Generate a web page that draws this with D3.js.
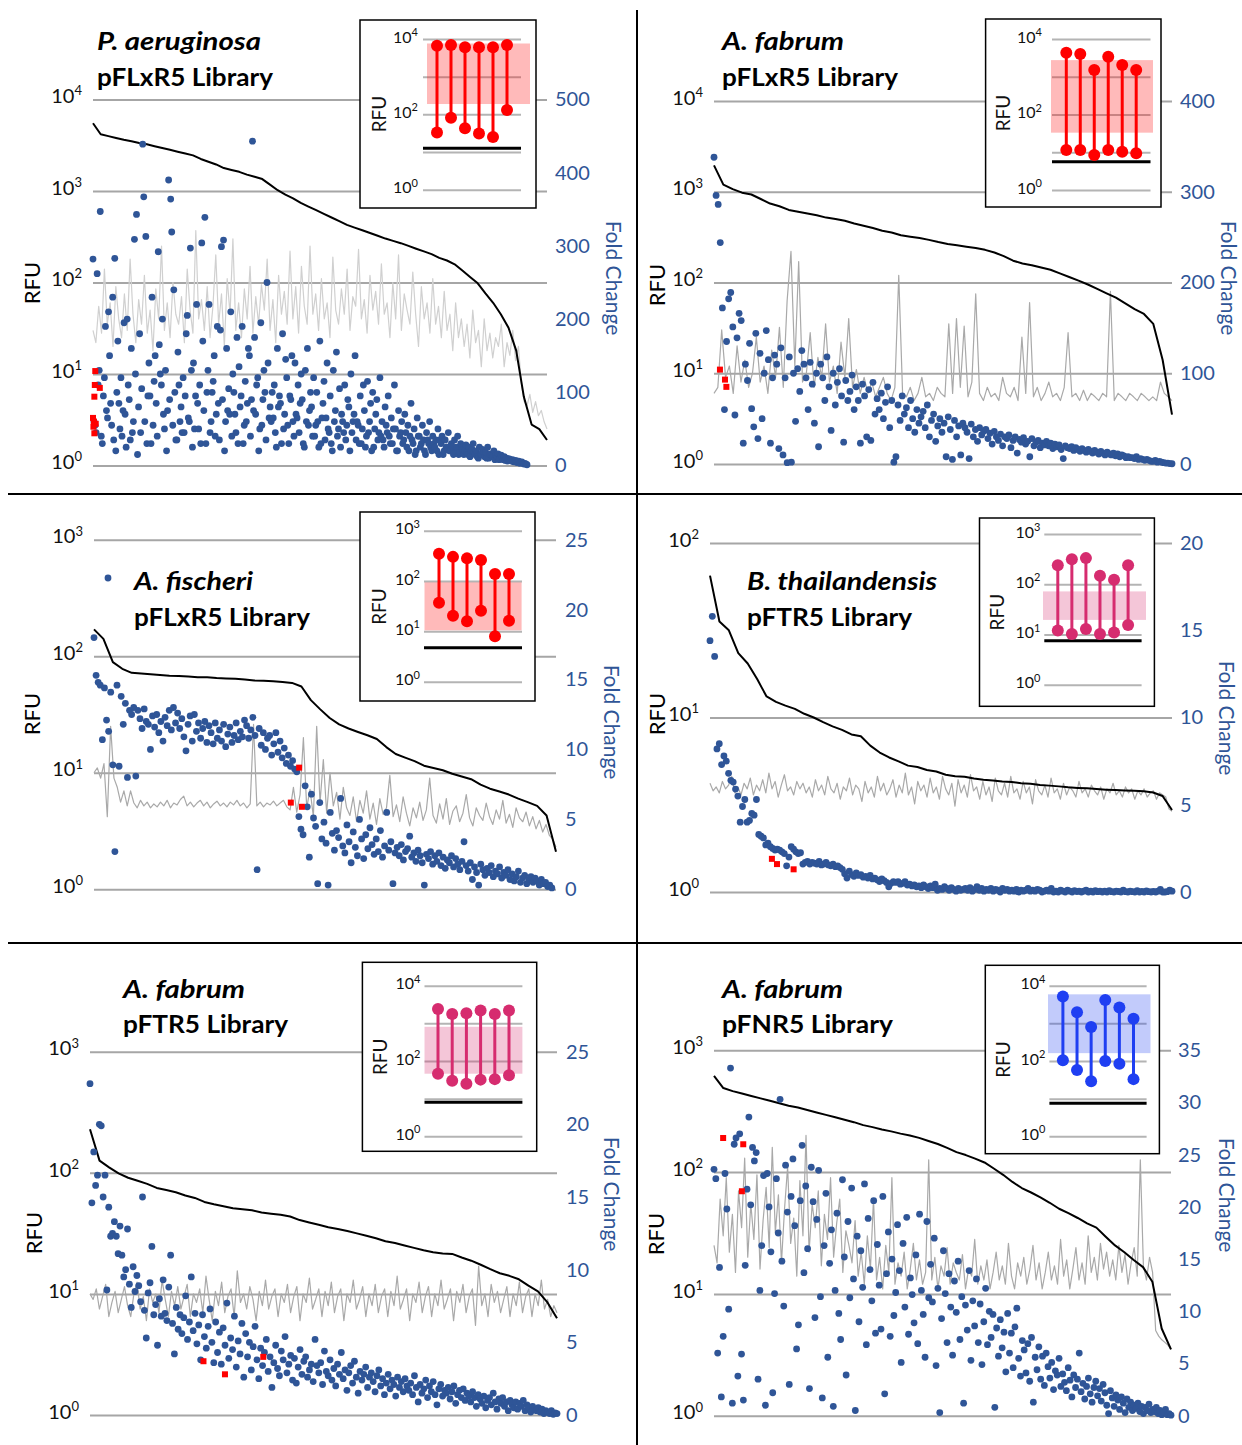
<!DOCTYPE html>
<html lang="en">
<head>
<meta charset="UTF-8">
<title>RFU and fold change for six promoter libraries</title>
<script src="https://d3js.org/d3.v7.min.js"></script>
<style>
  body { margin: 0; background: #fff; }
  svg text { font-family: Lato, "Open Sans", sans-serif; }
</style>
</head>
<body>
<svg width="1242" height="1445"></svg>
<script>
// ---- P. aeruginosa pFLxR5 ----
const p1FcTicks = [0, 100, 200, 300, 400, 500];
const p1Black = [5500,4170,3980,3800,3630,3500,3350,3240,3090,2950,2820,2690,2570,2450,2240,2090,1950,1780,1700,1620,
  1510,1430,1350,1175,1020,912,832,741,676,617,562,513,468,427,398,372,347,324,302,285,
  269,251,234,219,204,186,174,158,135,115,98,76,60,45,32,18,5.6,2.8,2.5,1.9];
const p1Grey = [30,22,55,28,140,35,60,20,90,40, 25,75,30,180,45,22,65,35,120,28,
  50,18,85,40,250,30,60,25,100,45, 35,70,22,140,50,28,370,40,65,30,
  90,25,55,200,35,75,20,110,45,300, 30,60,25,85,40,150,28,70,35,95,
  50,180,30,65,22,120,45,80,35,220, 40,90,28,150,55,35,250,45,75,30,
  110,40,60,25,190,50,35,85,45,140, 30,70,55,230,40,65,28,120,50,80,
  35,160,45,60,25,100,40,200,30,75, 50,35,130,45,20,90,40,60,28,110,
  35,55,25,80,30,45,18,60,25,40, 20,35,15,50,22,30,12,40,18,28,
  15,25,20,35,12,22,16,30,14,20, 8,5,4.5,6,3.8,5,3.5,4,3,2.5];
const p1Dots = [282,60,55,45,262,110,130,347,40,30,95,120,190,75,65,
  210,150,85,55,230,35,283,20,100,170,85,50,120,40,75,
  195,70,25,200,110,90,35,160,45,60,309,125,343,15,80,
  180,45,105,439,367,60,313,30,95,140,95,30,230,55,115,
  150,85,40,292,165,125,110,200,70,50,130,20,75,390,90,
  364,319,55,240,100,35,35,155,110,60,80,45,120,45,95,
  180,205,65,60,297,130,25,140,50,95,220,85,50,110,30,
  304,170,75,339,30,100,130,220,45,60,100,115,150,40,70,
  190,85,35,185,299,90,308,20,60,160,75,105,70,210,40,
  125,100,70,45,175,30,135,80,95,190,30,55,115,60,85,
  160,150,40,90,443,75,175,70,110,120,20,50,195,55,90,
  130,100,35,250,140,65,80,60,100,65,110,45,25,160,80,
  95,85,30,180,50,70,145,120,55,30,95,90,150,60,40,
  140,70,65,110,45,85,125,90,30,25,130,60,160,55,75,
  100,80,40,120,40,55,100,60,25,170,30,65,85,115,35,
  65,140,50,45,95,30,20,130,60,75,155,40,50,105,25,
  70,60,45,110,35,55,90,80,20,125,45,60,70,150,35,
  60,55,30,95,30,50,110,75,25,40,115,45,60,85,20,
  100,25,50,70,90,35,45,120,40,60,35,25,80,55,45,
  95,40,30,65,30,50,110,50,20,20,75,40,45,60,30,
  35,70,45,25,55,20,40,85,35,30,50,15,20,65,40,
  40,25,30,55,35,20,15,45,35,30,60,25,20,40,30,
  25,35,20,50,15,35,30,40,15,20,35,25,25,45,20,
  20,30,25,15,35,20,25,40,15,18,30,25,22,15,20,
  28,18,15,25,12,20,22,30,18,15,20,12,10,25,15,
  15,22,18,12,18,10,25,10,15,16,14,12,20,8,14,
  12,16,8,10,14,11,8,12,7,10,6,9,9,7,6,
  8,5,6,7,4,5,6,3,4,5,3,2,3,2,1];
const p1Red = [[0.005,129],[0.004,110],[0.015,106],[0.003,94],[0.0,65],[0.002,60],[0.001,53],[0.003,44],[0.006,57]];
const p1InsetTop = [6600, 6900, 6000, 6000, 6000, 6900];
const p1InsetBottom = [33, 81, 43, 31, 25, 130];
const p1InsetBand = [188, 7600];
const p1InsetFloor = 12.5;

// ---- A. fabrum pFLxR5 ----
const p2FcTicks = [0, 100, 200, 300, 400];
const p2Black = [1950,1200,1070,977,933,832,741,692,631,603,575,550,519,501,479,447,422,398,372,355,
  331,320,309,295,279,266,257,248,240,229,214,195,174,162,155,146,138,126,115,105,
  95,85,76,68,59,51,45,35,14,3.5];
const p2Grey = [6,7,30,9,12,6,20,8,14,7, 10,25,8,12,6,18,9,32,7,63,
  220,12,170,8,10,28,7,15,9,35, 8,12,6,22,9,40,7,11,6,9,
  6,8,5.5,7,9,6,5,7,120,6, 5.5,7,5,6,9,5.5,6,5,7,6,
  5.5,35,6,40,7,33,5.5,8,75,6, 5,7,5.5,6,5,9,6,5.5,7,5,
  25,6,60,5.5,7,5,6,8,5.5,6, 5,7,28,5.5,6,5,6.5,5,6,5.5,
  5,6,5.5,80,5,6,5.5,5,6,5.5, 5,6,5.5,5,5.5,5,8,6,5.5,5];
const p2Dots = [338,296,286,244,172,60,135,182,189,151, 54,139,166,158,23,110,92,133,61,41,
  144,28,122,50,100,147,115,23,95,120, 110,17,128,10,95,1.5,118,2,100,47,
  105,80,125,110,95,60,112,88,45,100, 19,110,95,70,118,85,37,100,65,90,
  105,75,24,92,70,80,98,60,85,70, 23,88,75,30,82,26,90,55,72,60,
  78,50,68,85,40,70,2,8,65,48, 75,55,62,40,70,50,35,60,45,52,
  58,40,65,30,48,55,25,42,50,35, 45,8,52,38,5,48,30,42,10,45,
  40,35,6,44,30,38,25,40,32,36, 38,28,34,22,36,30,26,33,20,30,
  28,32,18,26,30,12,27,24,29,22, 25,8,28,20,24,26,18,23,21,25,
  20,23,17,22,19,21,16,6,20,18, 17,19,15,18,16,14,17,15,13,16,
  14,12,15,13,11,14,12,10,13,11, 10,12,9,11,8,10,9,7,8,7,
  7,6,8,5,6,5,4,5,4,3, 3,4,2,3,2,1.5,1,1,0.5,0.3];
const p2Red = [[0.013,104],[0.024,93],[0.027,85]];
const p2InsetTop = [4330, 4000, 1510, 3400, 2040, 1510];
const p2InsetBottom = [11.5, 11.5, 8.5, 11.5, 10.3, 9.4];
const p2InsetBand = [33, 2760];
const p2InsetFloor = 5.6;

// ---- A. fischeri pFLxR5 ----
const p3FcTicks = [0, 5, 10, 15, 20, 25];
const p3Black = [170,141,89,78,72,71,70,69,68,67.6,67,66,66,65,64.5,64,63,62,61.7,61,
  60,59,55,42,35,29.5,26,24,22.4,21,19.5,16.6,14.5,13.5,12.6,11.5,11,10.5,9.8,9.3,
  8.8,7.9,7.3,6.9,6.5,6.0,5.6,5.2,4.3,2.1];
const p3Grey = [10,11,9,12,4.2,25,9,7.5,5.6,7, 5.2,7,5.5,5,5.8,5.2,5.6,5,5.4,5.1,
  5.6,5.2,5.8,5,5.5,5.3,5.9,6.3,5.2,5.6, 5.1,5.5,5.8,5.2,5.6,5,5.4,5.7,5.2,5.5,
  5.1,5.6,5.3,5.8,5.2,5.5,5,5.4,26,5.2, 5.6,5.1,5.5,5.3,5.7,5.2,5.5,5.8,5.1,4.8,
  7.5,4.6,6.5,20,5,7.2,4.2,25,5.5,13, 4.5,10,5.2,6.8,4,7.5,5,4.3,6.2,3.8,
  5.8,4.5,7,4,5.5,3.6,6,4.4,5,9.5, 4.2,5.3,3.8,6.2,4.5,3.5,5,4.1,5.6,3.9,
  4.8,9,4.3,3.7,5.4,4,6,3.6,4.7,5.2, 3.8,4.5,6.5,4.1,3.5,5,4.3,3.9,5.5,4.2,
  3.6,4.8,4,5.8,3.7,4.4,3.4,5,4.1,3.8, 4.6,3.5,4.2,3.3,3.9,3.1,3.6,2.9,2.7,2.3];
const p3Dots = [18.0,15.3,14.8,14.6,10.7,14.4,12.1,11.3,14.1,8.9, 2.7,14.6,8.8,13.8,11.8,13.3,8.0,12.8,12.5,13.0,
  8.1,12.8,12.2,11.5,12.9,12.0,11.8,10.0,12.4,11.6, 12.5,11.2,12.0,10.6,12.3,11.7,12.8,11.4,13.0,11.9,
  12.6,11.5,12.2,10.9,9.9,11.8,12.4,10.6,12.5,11.3, 11.9,10.8,11.5,12.0,10.5,11.7,11.2,10.4,11.9,10.8,
  11.4,10.6,11.8,10.2,11.1,11.6,10.5,11.0,11.9,10.7, 11.3,10.9,12.1,11.7,10.8,11.4,12.3,11.0,1.4,11.5,
  10.3,11.2,10.0,10.8,11.0,9.6,10.4,11.2,9.8,10.6, 9.4,10.1,9.0,9.6,8.8,9.2,8.6,8.4,5.2,4.3,
  3.9,7.4,5.9,2.3,6.8,5.1,4.5,0.4,6.2,3.6, 4.8,3.3,0.3,5.5,4.0,2.8,4.2,3.7,6.5,3.1,
  2.6,4.6,3.4,1.9,4.1,3.0,2.4,5.0,3.6,2.2, 3.9,2.9,4.4,3.2,2.5,3.6,2.7,4.2,2.3,3.1,
  5.5,2.8,3.4,0.4,2.6,3.0,2.4,3.2,2.1,2.7, 2.9,3.8,2.3,2.6,2.0,2.8,2.4,1.9,0.3,2.5,
  2.2,2.7,1.8,2.4,2.0,2.6,1.7,2.3,1.5,2.1, 1.9,2.4,1.6,2.2,1.8,1.4,2.0,3.4,1.7,1.3,
  1.9,0.7,1.6,1.2,0.3,1.8,1.4,1.0,1.5,1.2, 1.7,0.9,1.3,1.1,1.6,0.8,1.2,1.0,1.4,0.7,
  1.1,0.6,0.9,1.3,0.5,0.8,1.0,0.4,0.7,0.9, 0.5,0.8,0.6,0.3,0.7,0.4,0.5,0.2,0.3,0.1];
const p3Red = [[0.444,8.7],[0.426,6.2],[0.450,5.9]];
const p3InsetTop = [347, 302, 282, 263, 138, 138];
const p3InsetBottom = [37, 20.5, 15.9, 25.7, 8, 16.3];
const p3InsetBand = [10.5, 94];
const p3InsetFloor = 4.7;

// ---- B. thailandensis pFTR5 ----
const p4FcTicks = [0, 5, 10, 15, 20];
const p4Black = [65,35.5,31.6,23.4,20.4,16.6,13.2,12.3,11.7,11.2,10.5,10,9.4,8.9,8.5,8.0,7.8,6.9,6.3,5.9,
  5.6,5.3,5.2,5.0,4.9,4.7,4.6,4.57,4.47,4.4,4.36,4.3,4.27,4.2,4.17,4.1,4.07,4.03,3.98,3.95,
  3.93,3.89,3.86,3.84,3.82,3.80,3.78,3.72,3.55,2.95];
const p4Grey = [4.2,3.8,4.0,3.7,4.3,3.9,4.1,4.6,3.7,4.0, 3.6,4.2,3.9,4.5,3.6,4.1,3.8,4.4,3.7,4.8,
  3.9,4.3,3.5,4.1,4.7,3.8,4.0,3.6,4.3,3.9, 4.2,3.7,4.0,3.5,4.4,3.8,4.1,3.6,4.6,3.9,
  3.7,4.2,3.4,4.0,3.8,4.5,3.6,4.1,3.9,3.3, 4.3,3.7,4.0,3.5,4.6,3.8,4.2,3.6,3.9,4.4,
  3.5,4.1,3.7,4.8,3.6,4.0,3.2,4.3,3.8,4.1, 3.5,4.5,3.7,4.0,3.4,4.6,3.9,3.6,4.2,3.1,
  4.4,3.7,4.1,3.5,4.7,3.8,4.0,3.4,4.3,3.6, 4.0,3.3,4.5,3.8,3.6,4.2,3.5,4.6,3.7,3.9,
  3.4,4.3,3.7,4.0,3.2,4.4,3.8,3.6,4.1,3.5, 4.5,3.7,3.9,3.4,4.2,3.6,4.0,3.8,3.5,4.3,
  3.7,3.9,3.5,4.1,3.8,3.6,4.0,3.4,3.9,3.7, 4.2,3.6,3.8,3.5,4.0,3.7,3.9,3.4,3.8,3.6,
  3.9,3.5,3.7,3.8,3.4,3.7,3.6,3.5,3.0,2.9];
const p4Dots = [14.4,15.8,13.5,8.2,8.5,7.3,7.8,7.5,6.8,6.4, 6.3,5.9,5.5,4.0,4.9,5.3,4.0,4.1,4.5,4.4,
  5.3,3.3,3.2,3.1,2.7,2.8,2.6,2.5,2.4,2.45, 2.4,2.3,2.2,1.5,2.0,2.6,2.45,2.3,2.2,2.25,
  1.6,1.7,1.75,1.6,1.7,1.65,1.6,1.75,1.55,1.6, 1.7,1.55,1.5,1.6,1.45,1.5,1.4,1.3,1.05,0.8,
  1.2,1.0,0.9,1.1,0.95,1.0,0.85,0.9,0.8,0.95, 0.75,0.8,0.7,0.6,0.75,0.65,0.55,0.3,0.5,0.6,
  0.55,0.6,0.45,0.5,0.6,0.4,0.45,0.35,0.4,0.3, 0.35,0.25,0.4,0.3,0.2,0.35,0.25,0.45,0.1,0.2,
  0.15,0.3,0.2,0.1,0.25,0.15,0.05,0.2,0.1,0.15, 0.2,0.1,0.25,0.05,0.15,0.3,0.1,0.2,0.05,0.15,
  0.1,0.2,0.05,0.15,0.1,0.0,0.2,0.1,0.15,0.05, 0.1,0.05,0.15,0.0,0.1,0.05,0.1,0.2,0.05,0.1,
  0.05,0.15,0.1,0.0,0.05,0.1,0.05,0.2,0.0,0.05, 0.0,0.1,0.05,0.0,0.1,0.05,0.0,0.08,0.03,0.05,
  0.0,0.05,0.1,0.0,0.05,0.0,0.08,0.02,0.05,0.0, 0.05,0.0,0.08,0.02,0.0,0.05,0.03,0.0,0.1,0.02,
  0.0,0.05,0.02,0.0,0.08,0.0,0.04,0.0,0.06,0.02, 0.0,0.03,0.0,0.05,0.15,0.0,0.0,0.02,0.1,0.05];
const p4Red = [[0.134,1.9],[0.145,1.6],[0.181,1.3]];
const p4InsetTop = [240, 316, 331, 148, 123, 240];
const p4InsetBottom = [12, 10.2, 12.9, 10.2, 11, 15.5];
const p4InsetBand = [19.5, 72];
const p4InsetFloor = 7.5;

// ---- A. fabrum pFTR5 ----
const p5FcTicks = [0, 5, 10, 15, 20, 25];
const p5Black = [229,126,111,99,91,86,81,75,72,69,65,62,57.5,55,53,51,50,49,47,46,
  45,43.6,40.7,38.9,37.2,35.5,34.3,33.1,31.6,30.2,28.8,27.2,26.3,25.1,24,22.9,22.1,21.6,21.4,20,
  18.8,17.4,16,14.8,14.1,13.2,11.7,10.5,8.5,6.3];
const p5Grey = [10,9,11,7.5,9.5,12,6.5,8.5,10.5,7, 9,11.5,8,6.5,10,12.5,7.5,9.5,6,11,
  8.5,10,7,13,9,6.5,10.5,8,11.5,7.5, 9.5,12,6.5,10,8.5,11,7,14,9,6,
  10.5,8,12.5,7,9.5,11,6.5,15.5,8.5,10, 7.5,11.5,9,6,10.5,8,13,7.5,9.5,11,
  6.5,10,8.5,12,7,9.5,11.5,6,10,8.5, 13.5,7.5,9,11,6.5,10.5,8,12.5,7,9.5,
  11,6,10,8.5,13,7.5,9,11.5,6.5,10, 8,12,7,9.5,11,6.5,10.5,8,14,7.5,
  9,11,6,10,8.5,12.5,7,9.5,11.5,6.5, 10,8,13,7.5,9,11,6,10.5,8.5,12,
  7,9.5,11,5.5,17,8,10,6.5,12,8.5, 10.5,7,9,11.5,6.5,10,8,12.5,7,9.5,
  11,6.5,10,8,13,7.5,9,6.5,8,7];
const p5Dots = [22.8,14.6,18.1,15.8,16.5,20.0,19.9,15.0,16.5,8.6, 14.3,12.3,12.5,13.3,12.3,11.1,13.0,11.0,9.5,10.0,
  12.8,9.0,7.4,10.2,8.5,9.6,8.9,7.8,15.0,7.2, 5.3,8.4,9.1,11.6,6.9,7.6,4.8,8.0,6.8,9.3,
  7.0,6.5,8.8,11.0,6.3,4.2,7.4,5.9,6.9,5.6, 6.7,8.2,5.2,6.4,9.5,5.8,7.0,4.9,6.2,3.8,
  6.9,5.4,4.6,6.1,7.3,5.0,3.6,6.4,4.3,5.7, 3.5,6.0,4.8,7.7,3.9,5.3,4.5,6.8,3.3,5.1,
  4.2,6.3,2.6,5.6,4.0,5.0,3.1,4.7,6.1,3.8, 2.5,4.6,3.4,4.3,5.2,3.0,4.0,1.9,3.6,4.8,
  3.2,2.7,4.4,3.8,5.4,2.9,3.5,4.1,2.4,3.9, 2.2,3.3,4.5,2.8,3.7,4.0,2.6,3.1,3.5,2.3,
  5.2,3.4,2.9,3.6,2.1,4.4,3.0,2.7,3.8,2.4, 3.2,2.0,3.5,2.8,4.3,2.5,3.1,1.7,2.9,3.4,
  2.2,3.7,2.6,1.5,3.0,2.4,2.8,3.3,1.9,2.6, 2.9,2.3,1.6,2.7,3.1,2.0,2.5,1.4,2.2,2.8,
  1.8,2.4,2.1,1.3,2.6,1.9,2.3,1.6,2.5,2.0, 1.7,2.2,1.4,2.7,1.9,0.9,2.1,1.5,1.8,2.4,
  1.2,2.0,1.6,2.3,1.4,0.7,1.8,2.1,1.3,1.7, 1.5,1.9,1.1,1.6,2.0,0.8,1.4,1.7,1.2,1.8,
  1.0,1.5,1.3,0.9,1.6,1.2,0.6,1.4,1.1,0.8, 1.3,0.5,1.0,1.2,0.7,1.5,0.9,0.4,1.1,0.8,
  1.2,0.6,0.9,0.3,1.0,0.7,0.5,0.9,0.4,0.8, 0.6,1.0,0.3,0.7,0.5,0.2,0.6,0.4,0.3,0.5,
  0.2,0.4,0.1,0.3,0.2,0.1,0.3,0.05,0.15,0.1];
const p5Red = [[0.243,3.7],[0.289,2.8],[0.371,4.0]];
const p5InsetTop = [2400, 1780, 1860, 2190, 1780, 2190];
const p5InsetBottom = [46, 30, 25, 32, 33, 42];
const p5InsetBand = [46, 810];
const p5InsetFloor = 8;

// ---- A. fabrum pFNR5 ----
const p6FcTicks = [0, 5, 10, 15, 20, 25, 30, 35];
const p6Black = [617,490,462,442,422,403,385,367,351,339,324,309,295,282,269,257,243,234,224,216,
  207,200,191,180,170,158,146,138,129,120,107,95,83,74,68,62,56,50,46,42,
  38,35,29.5,25,22,19,16.6,12.6,5.2,3.5];
const p6Grey = [25,18,60,30,90,22,45,15,70,35, 130,20,55,28,95,16,40,75,24,160,
  32,65,18,50,110,26,42,14,85,30, 200,22,55,35,70,17,45,28,90,20,
  38,60,15,33,25,18,40,14,22,12, 30,16,60,13,20,11,25,15,90,12,
  18,14,22,11,16,26,13,19,12,15, 126,13,20,11,17,14,24,12,18,15,
  13,21,11,16,14,28,12,17,13,19, 11,15,22,13,17,12,26,14,11,18,
  14,20,12,16,25,13,18,11,15,22, 13,17,12,28,14,19,11,16,24,13,
  18,12,30,15,20,13,26,16,22,14, 19,13,25,15,21,12,18,24,14,126,
  17,13,20,15,5,4.5,4.2,4,3.8,3.5];
const p6Dots = [23.6,22.7,6.0,14.2,1.8,7.6,23.2,19.8,10.2,33.3, 1.2,26.0,26.6,3.8,27.0,5.9,1.5,14.4,21.7,28.6,
  20.2,25.7,24.4,25.2,3.5,12.0,16.3,23.0,1.0,23.2, 20.0,15.7,2.2,11.7,22.7,17.5,30.3,14.8,10.5,24.0,
  19.5,3.0,21.0,24.6,18.2,6.4,8.7,20.6,25.9,13.7, 22.0,16.0,2.6,23.8,20.5,9.4,18.8,23.5,11.4,1.7,
  16.3,21.3,5.6,14.6,17.8,0.9,12.0,19.4,9.8,7.3, 22.6,15.2,3.9,18.6,11.3,21.8,13.1,0.5,17.2,9.0,
  15.8,12.3,22.2,6.8,18.9,14.0,11.0,20.6,7.9,16.4, 12.5,8.3,21.0,2.1,13.6,17.6,7.6,15.0,9.6,11.8,
  18.3,13.9,5.1,16.5,10.4,19.0,7.8,13.2,11.6,8.9, 15.4,6.9,19.3,12.0,9.7,5.6,18.6,11.3,14.5,10.9,
  17.0,4.8,12.2,0.3,9.3,15.8,11.7,7.0,13.6,10.4, 5.8,12.9,9.9,14.8,7.3,11.4,1.2,10.6,8.2,13.9,
  5.3,11.0,8.6,13.1,7.0,10.7,4.9,9.0,12.2,6.8, 10.0,7.5,9.7,0.8,8.4,5.7,9.2,6.5,8.0,4.2,
  9.8,6.0,7.9,4.6,8.5,10.3,5.5,3.8,7.2,6.3, 4.1,6.9,3.3,7.5,1.3,5.6,4.4,6.6,3.5,5.7,
  2.9,6.0,4.7,3.6,5.1,2.5,4.3,3.9,5.5,2.8, 4.0,3.2,2.4,4.6,3.4,1.8,3.9,2.7,3.5,6.0,
  2.3,3.1,1.6,2.8,3.6,2.1,1.3,2.7,3.3,1.9, 2.6,1.4,3.0,2.2,1.0,0.2,2.4,1.7,0.9,2.0,
  1.5,0.6,1.8,1.2,0.3,1.6,0.8,1.3,0.5,1.0, 0.7,1.2,0.4,0.9,0.2,0.8,0.5,1.1,0.3,0.6,
  0.4,0.8,0.2,0.5,0.1,0.3,0.6,0.1,0.2,0.05];
const p6Red = [[0.020,26.6],[0.064,26.0],[0.061,21.5]];
const p6InsetTop = [5140, 1980, 800, 4200, 2620, 1320];
const p6InsetBottom = [104, 58, 29, 100, 85, 33];
const p6InsetBand = [162, 5900];
const p6InsetFloor = 7.6;

const BLUE = "#2F5597";
const RED = "#ff0000", MAGENTA = "#d62c6f", BRIGHT_BLUE = "#1f3ff2";

const panels = [
  { title: ["P. aeruginosa", "pFLxR5 Library"], tx: 97, ty: [50, 86], tw: [164, 176],
    x0: 93, x1: 547, yTop: 99.5, yBot: 465.5, dec: 4, fcMax: 500, fcTicks: p1FcTicks, rPad: 8,
    black: p1Black, grey: p1Grey, greyColor: "#d0d0d0", dots: p1Dots, dotSpan: 0.956, red: p1Red,
    rfu: [31, 283], fold: [614, 278],
    inset: { box: [360, 20, 536, 208], y0: 189.7, yTop: 39, dec: 4, labels: [0, 2, 4], gridX: [423, 521],
      labelX: 418, rfuX: 378, stemX: [437, 507], bandX: [427, 530], band: p1InsetBand, floor: p1InsetFloor,
      top: p1InsetTop, bottom: p1InsetBottom, color: RED } },
  { title: ["A. fabrum", "pFLxR5 Library"], tx: 722, ty: [50, 86], tw: [122, 176],
    x0: 714, x1: 1172, yTop: 101, yBot: 464, dec: 4, fcMax: 400, fcTicks: p2FcTicks, rPad: 8,
    black: p2Black, grey: p2Grey, greyColor: "#a9a9a9", dots: p2Dots, dotSpan: 1, red: p2Red,
    rfu: [656, 285], fold: [1229, 278],
    inset: { box: [985.6, 19, 1161, 207], y0: 190, yTop: 39, dec: 4, labels: [0, 2, 4], gridX: [1052, 1150.5],
      labelX: 1042, rfuX: 1002, stemX: [1066.3, 1136.2], bandX: [1051, 1153], band: p2InsetBand, floor: p2InsetFloor,
      top: p2InsetTop, bottom: p2InsetBottom, color: RED } },
  { title: ["A. fischeri", "pFLxR5 Library"], tx: 134, ty: [590, 626], tw: [119, 176],
    x0: 94, x1: 556, yTop: 539.7, yBot: 889.3, dec: 3, fcMax: 25, fcTicks: p3FcTicks, rPad: 9,
    black: p3Black, grey: p3Grey, greyColor: "#a9a9a9", dots: p3Dots, dotSpan: 0.991, red: p3Red,
    rfu: [31, 714], fold: [612, 722], legendDot: [108, 578],
    inset: { box: [360, 512, 535, 701], y0: 681.7, yTop: 530.7, dec: 3, labels: [0, 1, 2, 3], gridX: [424, 522],
      labelX: 420, rfuX: 378, stemX: [439, 509], bandX: [424.5, 521.6], band: p3InsetBand, floor: p3InsetFloor,
      top: p3InsetTop, bottom: p3InsetBottom, color: RED } },
  { title: ["B. thailandensis", "pFTR5 Library"], tx: 747, ty: [590, 626], tw: [190, 165],
    x0: 710, x1: 1172, yTop: 543, yBot: 892, dec: 2, fcMax: 20, fcTicks: p4FcTicks, rPad: 8,
    black: p4Black, grey: p4Grey, greyColor: "#a9a9a9", dots: p4Dots, dotSpan: 1, red: p4Red,
    rfu: [656, 714], fold: [1227, 718],
    inset: { box: [979.5, 518, 1154.4, 706.3], y0: 684.7, yTop: 534, dec: 3, labels: [0, 1, 2, 3], gridX: [1044.3, 1141.6],
      labelX: 1040.5, rfuX: 996, stemX: [1057.8, 1128.1], bandX: [1043, 1146], band: p4InsetBand, floor: p4InsetFloor,
      top: p4InsetTop, bottom: p4InsetBottom, color: MAGENTA } },
  { title: ["A. fabrum", "pFTR5 Library"], tx: 123, ty: [998, 1033], tw: [122, 165],
    x0: 90, x1: 557, yTop: 1051.7, yBot: 1415, dec: 3, fcMax: 25, fcTicks: p5FcTicks, rPad: 9,
    black: p5Black, grey: p5Grey, greyColor: "#a9a9a9", dots: p5Dots, dotSpan: 1, red: p5Red,
    rfu: [33, 1233], fold: [612, 1194],
    inset: { box: [362.4, 962.3, 536.7, 1151.3], y0: 1136.3, yTop: 985.7, dec: 4, labels: [0, 2, 4], gridX: [424.5, 522.4],
      labelX: 420.4, rfuX: 379, stemX: [438, 509], bandX: [424.5, 522.4], band: p5InsetBand, floor: p5InsetFloor,
      top: p5InsetTop, bottom: p5InsetBottom, color: MAGENTA } },
  { title: ["A. fabrum", "pFNR5 Library"], tx: 722, ty: [998, 1033], tw: [121, 171],
    x0: 714, x1: 1171, yTop: 1050.3, yBot: 1415.7, dec: 3, fcMax: 35, fcTicks: p6FcTicks, rPad: 7,
    black: p6Black, grey: p6Grey, greyColor: "#a9a9a9", dots: p6Dots, dotSpan: 1, red: p6Red,
    rfu: [655, 1234], fold: [1227, 1195],
    inset: { box: [985.3, 965.3, 1159.4, 1153.7], y0: 1136.3, yTop: 985.7, dec: 4, labels: [0, 2, 4], gridX: [1049.4, 1146.6],
      labelX: 1045.5, rfuX: 1002, stemX: [1062.9, 1133.5], bandX: [1048, 1150.5], band: p6InsetBand, floor: p6InsetFloor,
      top: p6InsetTop, bottom: p6InsetBottom, color: BRIGHT_BLUE } }
];

const svg = d3.select("svg");

// power-of-ten label: "10" with a raised exponent
function powLabel(sel, d, big, small) {
  sel.text(null);
  sel.append("tspan").attr("font-size", big).text("10");
  sel.append("tspan").attr("font-size", small).attr("dy", "-0.6em").text(Math.round(Math.log10(d)));
}

function drawInset(g, p) {
  const b = p.inset;
  g.append("rect")
    .attr("x", b.box[0]).attr("y", b.box[1])
    .attr("width", b.box[2] - b.box[0]).attr("height", b.box[3] - b.box[1])
    .attr("fill", "#fff").attr("stroke", "#000").attr("stroke-width", 1.5);

  const iy = d3.scaleLog().domain([1, Math.pow(10, b.dec)]).range([b.y0, b.yTop]);
  const ix = d3.scalePoint().domain(d3.range(b.top.length)).range(b.stemX);
  const decs = d3.range(b.dec + 1).map(k => Math.pow(10, k));

  const ax = g.append("g")
    .attr("transform", `translate(${b.gridX[0]},0)`)
    .call(d3.axisLeft(iy).tickValues(decs).tickSize(-(b.gridX[1] - b.gridX[0]))
      .tickPadding(b.gridX[0] - b.labelX).tickFormat(""));
  ax.select(".domain").remove();
  ax.selectAll(".tick line").attr("stroke", "#b4b4b4").attr("stroke-width", 2);
  ax.selectAll(".tick text").attr("fill", "#111").each(function(d) {
    if (b.labels.includes(Math.round(Math.log10(d)))) powLabel(d3.select(this), d, 16, 11);
  });

  g.append("rect")
    .attr("x", b.bandX[0]).attr("width", b.bandX[1] - b.bandX[0])
    .attr("y", iy(b.band[1])).attr("height", iy(b.band[0]) - iy(b.band[1]))
    .attr("fill", b.color).attr("opacity", 0.27);

  g.append("line")
    .attr("x1", b.gridX[0]).attr("x2", b.gridX[1])
    .attr("y1", iy(b.floor)).attr("y2", iy(b.floor))
    .attr("stroke", "#000").attr("stroke-width", 3);

  const pairs = b.top.map((t, i) => ({ i, t, bt: b.bottom[i] }));
  g.selectAll(null).data(pairs).enter().append("line")
    .attr("x1", d => ix(d.i)).attr("x2", d => ix(d.i))
    .attr("y1", d => iy(d.t)).attr("y2", d => iy(d.bt))
    .attr("stroke", b.color).attr("stroke-width", 3);
  g.selectAll(null).data(pairs.flatMap(d => [{ i: d.i, v: d.t }, { i: d.i, v: d.bt }])).enter().append("circle")
    .attr("cx", d => ix(d.i)).attr("cy", d => iy(d.v)).attr("r", 6).attr("fill", b.color);

  g.append("text")
    .attr("transform", `translate(${b.rfuX},${(b.box[1] + b.box[3]) / 2}) rotate(-90)`)
    .attr("text-anchor", "middle").attr("dominant-baseline", "central")
    .attr("font-size", 19).attr("fill", "#111").text("RFU");
}

function drawPanel(p) {
  const g = svg.append("g");
  const x = d3.scaleLinear().domain([0, 1]).range([p.x0, p.x1]);
  const yR = d3.scaleLog().domain([1, Math.pow(10, p.dec)]).range([p.yBot, p.yTop]);
  const yF = d3.scaleLinear().domain([0, p.fcMax]).range([p.yBot, p.yTop]);
  const decs = d3.range(p.dec + 1).map(k => Math.pow(10, k));

  // grid and left RFU labels
  const left = g.append("g")
    .attr("transform", `translate(${p.x0},0)`)
    .call(d3.axisLeft(yR).tickValues(decs).tickSize(-(p.x1 - p.x0)).tickPadding(11).tickFormat(""));
  left.select(".domain").remove();
  left.selectAll(".tick line").attr("stroke", "#a6a6a6").attr("stroke-width", 2);
  left.selectAll(".tick text").attr("fill", "#111").each(function(d) { powLabel(d3.select(this), d, 20, 13); });

  // right fold-change labels
  const right = g.append("g")
    .attr("transform", `translate(${p.x1},0)`)
    .call(d3.axisRight(yF).tickValues(p.fcTicks).tickSize(0).tickPadding(p.rPad));
  right.select(".domain").remove();
  right.selectAll(".tick text").attr("fill", BLUE).attr("font-size", 20);

  // grey and black RFU traces
  const trace = arr => d3.line().x((d, i) => x(i / (arr.length - 1))).y(d => yR(d))(arr);
  g.append("path").attr("d", trace(p.grey)).attr("fill", "none")
    .attr("stroke", p.greyColor).attr("stroke-width", 1.2).attr("stroke-linejoin", "round");
  g.append("path").attr("d", trace(p.black)).attr("fill", "none")
    .attr("stroke", "#000").attr("stroke-width", 2).attr("stroke-linejoin", "round");

  // fold-change dots
  const n = p.dots.length;
  g.selectAll(null).data(p.dots).enter().append("circle")
    .attr("cx", (d, i) => x(i / (n - 1) * p.dotSpan)).attr("cy", d => yF(d))
    .attr("r", 3.4).attr("fill", BLUE);

  g.selectAll(null).data(p.red).enter().append("rect")
    .attr("x", d => x(d[0]) - 3).attr("y", d => yF(d[1]) - 3)
    .attr("width", 6).attr("height", 6).attr("fill", RED);

  if (p.legendDot) {
    g.append("circle").attr("cx", p.legendDot[0]).attr("cy", p.legendDot[1]).attr("r", 3.4).attr("fill", BLUE);
  }

  // titles
  p.title.forEach((t, k) => {
    g.append("text")
      .attr("x", p.tx).attr("y", p.ty[k])
      .attr("font-size", 25).attr("font-weight", 700)
      .attr("font-style", k === 0 ? "italic" : "normal")
      .attr("textLength", p.tw[k]).attr("lengthAdjust", "spacingAndGlyphs")
      .attr("fill", "#000").text(t);
  });

  g.append("text")
    .attr("transform", `translate(${p.rfu[0]},${p.rfu[1]}) rotate(-90)`)
    .attr("text-anchor", "middle").attr("dominant-baseline", "central")
    .attr("font-size", 22).attr("fill", "#000").text("RFU");
  g.append("text")
    .attr("transform", `translate(${p.fold[0]},${p.fold[1]}) rotate(90)`)
    .attr("text-anchor", "middle").attr("dominant-baseline", "central")
    .attr("font-size", 21).attr("fill", BLUE).text("Fold Change");

  drawInset(g, p);
}

panels.forEach(drawPanel);

// panel dividers
svg.append("line").attr("x1", 637).attr("x2", 637).attr("y1", 10).attr("y2", 1445)
  .attr("stroke", "#000").attr("stroke-width", 2);
[494, 943].forEach(y => {
  svg.append("line").attr("x1", 8).attr("x2", 1242).attr("y1", y).attr("y2", y)
    .attr("stroke", "#000").attr("stroke-width", 2);
});
</script>
</body>
</html>
